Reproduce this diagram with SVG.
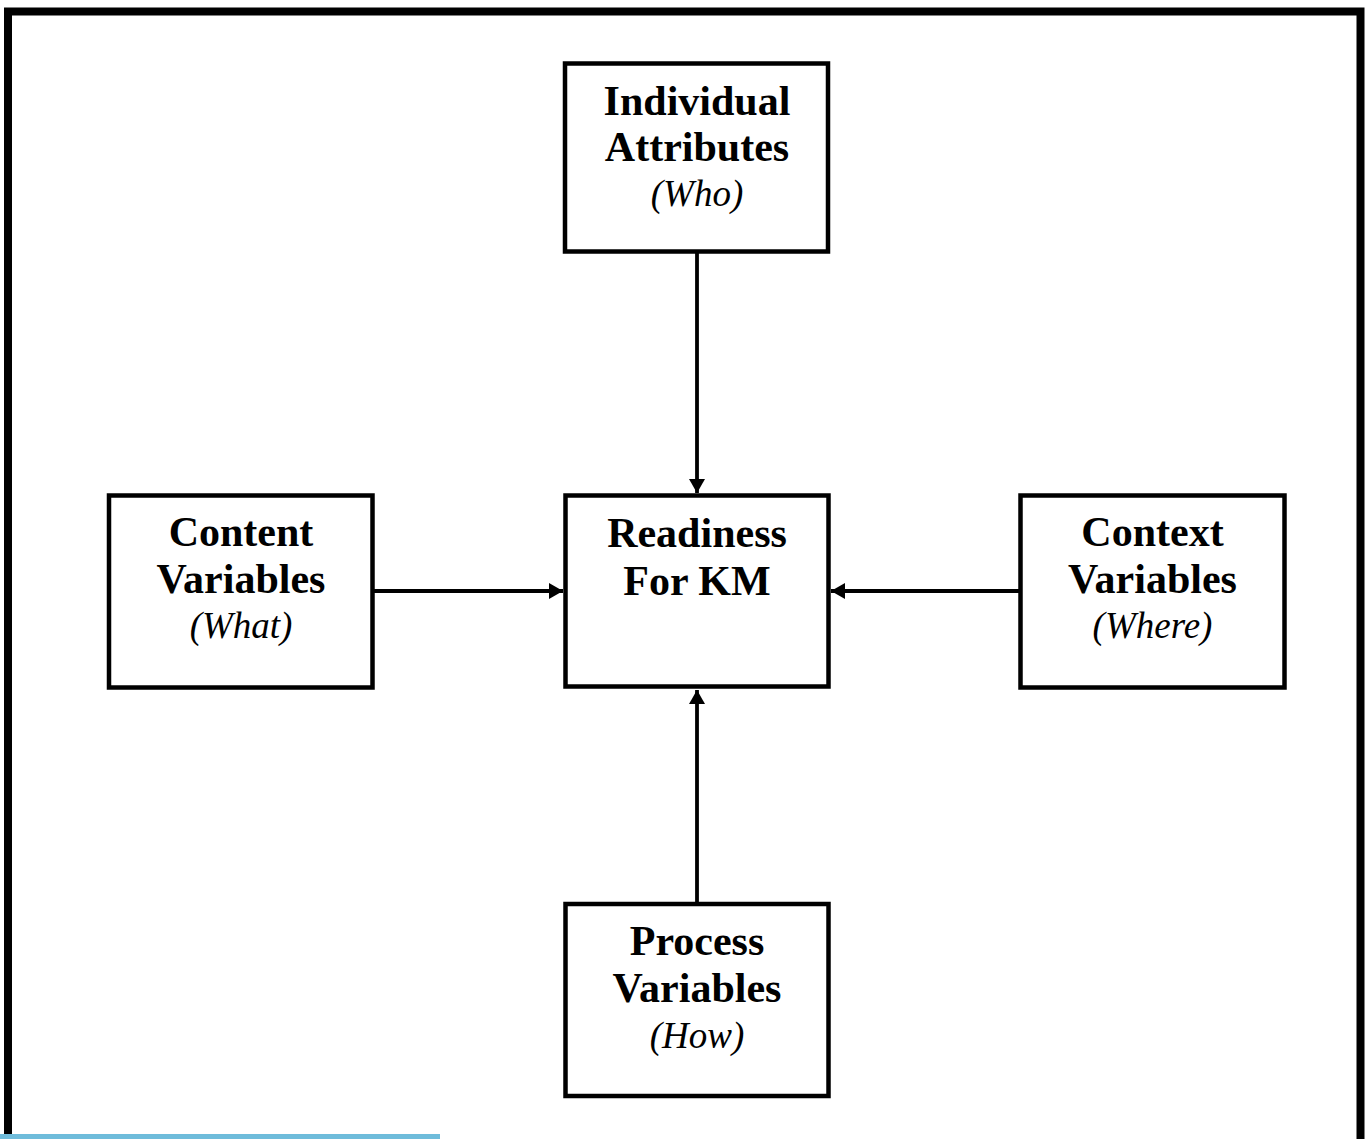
<svg xmlns="http://www.w3.org/2000/svg" width="1369" height="1139" viewBox="0 0 1369 1139">
<style>
.box{fill:#fff;stroke:#000;stroke-width:4.5}
.b{font-family:"Liberation Serif","Times New Roman",serif;font-weight:bold;font-size:42px;text-anchor:middle;fill:#000}
.i{font-family:"Liberation Serif","Times New Roman",serif;font-style:italic;font-size:37px;text-anchor:middle;fill:#000}
.c{stroke:#000;stroke-width:3.8;fill:none}
</style>
<defs>
<marker id="ah" markerUnits="userSpaceOnUse" markerWidth="16" markerHeight="16" viewBox="0 0 14 16" refX="14" refY="8" orient="auto">
<path d="M0,0 L14,8 L0,16 Z" fill="#000"/>
</marker>
</defs>
<rect width="1369" height="1139" fill="#fff"/>
<path d="M8,1145 V11.5 H1360.5 V1145" fill="none" stroke="#000" stroke-width="8"/>
<rect x="0" y="1134" width="440" height="5" fill="#6fbcdb"/>
<g id="connectors">
<line class="c" x1="697" y1="253" x2="697" y2="493" marker-end="url(#ah)"/>
<line class="c" x1="374" y1="591" x2="563" y2="591" marker-end="url(#ah)"/>
<line class="c" x1="1019" y1="591" x2="831" y2="591" marker-end="url(#ah)"/>
<line class="c" x1="697" y1="903" x2="697" y2="690" marker-end="url(#ah)"/>
</g>
<g id="individual">
<rect class="box" x="565" y="63.5" width="263" height="188"/>
<text class="b" x="697" y="115">Individual</text>
<text class="b" x="697" y="161">Attributes</text>
<text class="i" x="697" y="206">(Who)</text>
</g>
<g id="content">
<rect class="box" x="109" y="495.5" width="263.5" height="192"/>
<text class="b" x="241" y="546">Content</text>
<text class="b" x="241" y="593">Variables</text>
<text class="i" x="241" y="638">(What)</text>
</g>
<g id="readiness">
<rect class="box" x="565.5" y="495.5" width="263" height="191"/>
<text class="b" x="697" y="547">Readiness</text>
<text class="b" x="697" y="595">For KM</text>
</g>
<g id="context">
<rect class="box" x="1020.5" y="495.5" width="264" height="192"/>
<text class="b" x="1152.5" y="546">Context</text>
<text class="b" x="1152.5" y="593">Variables</text>
<text class="i" x="1152.5" y="638">(Where)</text>
</g>
<g id="process">
<rect class="box" x="565.5" y="904" width="263" height="192"/>
<text class="b" x="697" y="955">Process</text>
<text class="b" x="697" y="1002">Variables</text>
<text class="i" x="697" y="1048">(How)</text>
</g>
</svg>
